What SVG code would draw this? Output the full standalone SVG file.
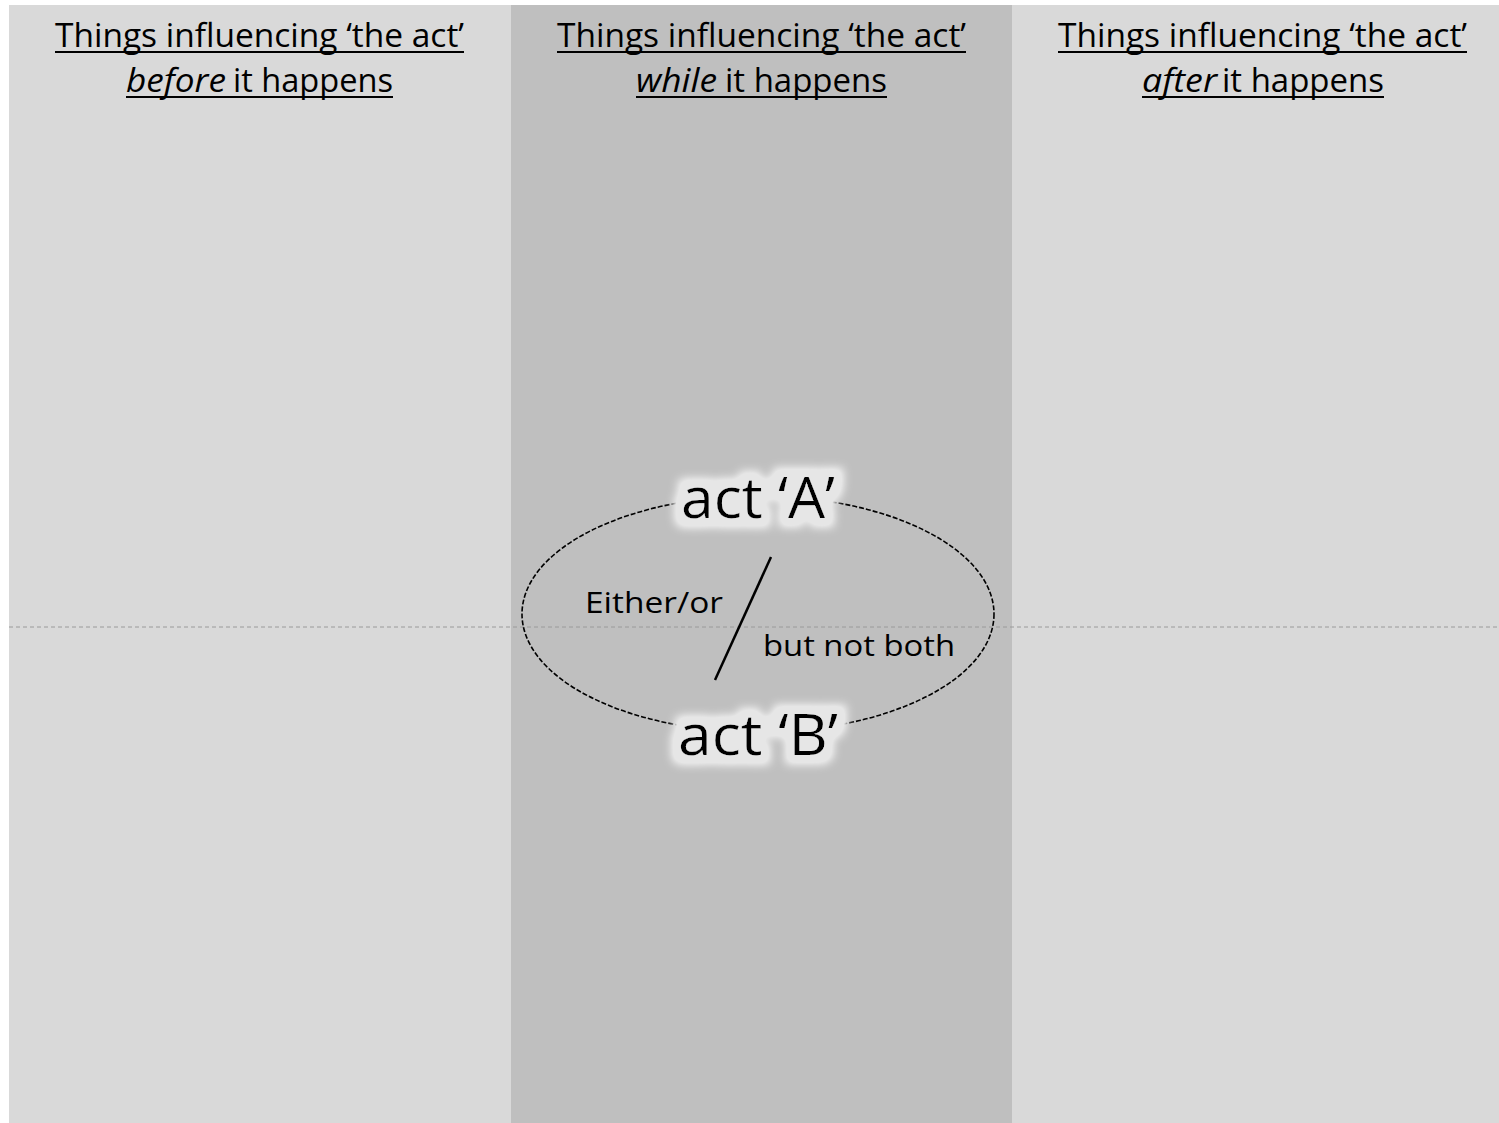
<svg xmlns="http://www.w3.org/2000/svg" width="1499" height="1123" viewBox="0 0 1499 1123">
  <style>
    .head { font-family: "Open Sans", "Noto Sans", "Liberation Sans", sans-serif; font-size: 33px; fill: #000; }
    .it { font-style: italic; }
    .uline { stroke: #000; stroke-width: 2; }
    .act { font-family: "Open Sans", "Noto Sans", "Liberation Sans", sans-serif; font-size: 56px; fill: #000; }
    .note { font-family: "Open Sans", "Noto Sans", "Liberation Sans", sans-serif; font-size: 30px; fill: #000; }
  </style>
  <defs>
    <!-- soft light halo behind the act labels; it also hides the loop line under them -->
    <filter id="glow" x="-30%" y="-60%" width="160%" height="220%">
      <feMorphology in="SourceAlpha" operator="dilate" radius="9" result="grown"/>
      <feGaussianBlur in="grown" stdDeviation="5" result="soft"/>
      <feComponentTransfer in="soft" result="dense">
        <feFuncA type="linear" slope="1.6"/>
      </feComponentTransfer>
      <feFlood flood-color="#e6e6e6" flood-opacity="1"/>
      <feComposite in2="dense" operator="in" result="halo"/>
      <feMerge>
        <feMergeNode in="halo"/>
        <feMergeNode in="SourceGraphic"/>
      </feMerge>
    </filter>
  </defs>

  <rect x="0" y="0" width="1499" height="1123" fill="#ffffff"/>

  <!-- three time columns -->
  <g id="col-before">
    <rect x="9" y="5" width="502" height="1118" fill="#d9d9d9"/>
    <text class="head" x="55" y="47" textLength="409" lengthAdjust="spacingAndGlyphs">Things influencing ‘the act’</text>
    <text class="head" y="92"><tspan class="it" x="126" textLength="100" lengthAdjust="spacingAndGlyphs">before</tspan><tspan x="233" textLength="160" lengthAdjust="spacingAndGlyphs">it happens</tspan></text>
    <line class="uline" x1="55" y1="52" x2="464" y2="52"/>
    <line class="uline" x1="126" y1="97" x2="393" y2="97"/>
  </g>
  <g id="col-while">
    <rect x="511" y="5" width="501" height="1118" fill="#bfbfbf"/>
    <text class="head" x="557" y="47" textLength="409" lengthAdjust="spacingAndGlyphs">Things influencing ‘the act’</text>
    <text class="head" y="92"><tspan class="it" x="636" textLength="81" lengthAdjust="spacingAndGlyphs">while</tspan><tspan x="725" textLength="162" lengthAdjust="spacingAndGlyphs">it happens</tspan></text>
    <line class="uline" x1="557" y1="52" x2="966" y2="52"/>
    <line class="uline" x1="636" y1="97" x2="887" y2="97"/>
  </g>
  <g id="col-after">
    <rect x="1012" y="5" width="487" height="1118" fill="#d9d9d9"/>
    <text class="head" x="1058" y="47" textLength="409" lengthAdjust="spacingAndGlyphs">Things influencing ‘the act’</text>
    <text class="head" y="92"><tspan class="it" x="1142" textLength="75" lengthAdjust="spacingAndGlyphs">after</tspan><tspan x="1222" textLength="162" lengthAdjust="spacingAndGlyphs">it happens</tspan></text>
    <line class="uline" x1="1058" y1="52" x2="1467" y2="52"/>
    <line class="uline" x1="1142" y1="97" x2="1384" y2="97"/>
  </g>

  <!-- divider and slash -->
  <g id="lines">
    <line x1="9" y1="627" x2="1499" y2="627" stroke="#9a9a9a" stroke-width="1" stroke-dasharray="4 3"/>
    <line x1="771" y1="557" x2="715" y2="680" stroke="#000" stroke-width="2.5"/>
  </g>

  <!-- either/or loop -->
  <g id="choice">
    <ellipse cx="758" cy="614" rx="236" ry="118" fill="none" stroke="#000" stroke-width="1.6" stroke-dasharray="5 2"/>
  </g>
  <g id="act-a">
    <text class="act" x="681" y="518" textLength="154" lengthAdjust="spacingAndGlyphs" filter="url(#glow)">act ‘A’</text>
  </g>
  <g id="act-b">
    <text class="act" x="678" y="755" textLength="160" lengthAdjust="spacingAndGlyphs" filter="url(#glow)">act ‘B’</text>
  </g>
  <g id="either-or">
    <text class="note" x="585" y="613" textLength="138" lengthAdjust="spacingAndGlyphs">Either/or</text>
  </g>
  <g id="not-both">
    <text class="note" x="763" y="656" textLength="192" lengthAdjust="spacingAndGlyphs">but not both</text>
  </g>
</svg>
